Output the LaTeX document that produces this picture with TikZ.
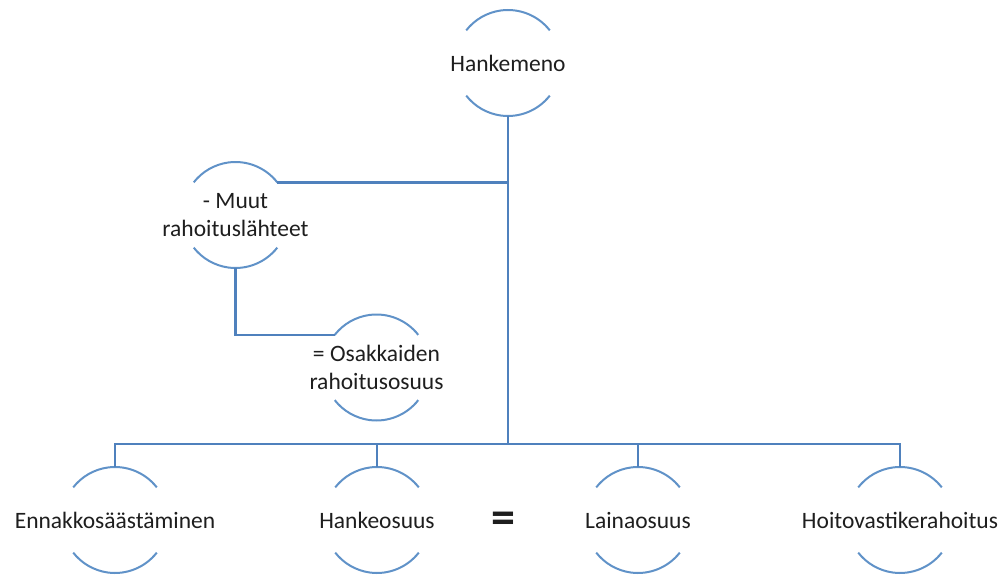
\documentclass[tikz,border=0pt]{standalone}
\usepackage{fontspec}
\setmainfont{Carlito}
\usepackage{tikz}
\usetikzlibrary{positioning}
\definecolor{linkblue}{RGB}{79,129,189}
\definecolor{ringblue}{RGB}{96,146,200}
\definecolor{txtgray}{RGB}{30,30,30}

\begin{document}
\begin{tikzpicture}[x=1pt,y=1pt,
  ring/.style={circle,minimum size=106pt,inner sep=0pt,outer sep=0pt},
  txt/.style={font=\fontsize{23.5}{28}\selectfont,text=txtgray,align=center},
  link/.style={draw=linkblue,line width=2.4pt},
  arcline/.style={draw=ringblue,line width=2pt}]
  \useasboundingbox (0,0) rectangle (1004,-575);

  \node[ring,label={[txt]center:Hankemeno}] (h) at (508,-63){};
  \node[ring,label={[txt]center:- Muut\\rahoituslähteet}] (m) at (235.5,-215){};
  \node[ring,label={[txt]center:= Osakkaiden\\rahoitusosuus}] (o) at (376.5,-367.5){};
  \node[ring,label={[txt]center:Ennakkosäästäminen}] (e) at (115,-520){};
  \node[ring,label={[txt]center:Hankeosuus}] (ho) at (377,-520){};
  \node[ring,label={[txt]center:Lainaosuus}] (l) at (638,-520){};
  \node[ring,label={[txt]center:Hoitovastikerahoitus}] (hv) at (900,-520){};
  \node[font=\fontsize{48}{50}\selectfont\bfseries,text=txtgray] (eq) at (503,-523){=};

  \coordinate (bus) at (508,-444);

  % arcs of the rings
  \foreach \n in {h,m,o,e,ho,l,hv}{
    \draw[arcline] (\n.38) arc[start angle=38,end angle=142,radius=53pt];
    \draw[arcline] (\n.-38) arc[start angle=-38,end angle=-142,radius=53pt];
  }

  \draw[link](h.south)--(bus);
  \draw[link](m.38)--(m.38 -| h.south);
  \draw[link](m.south)|-(o.142);
  \draw[link](e.north)--(e.north |- bus)-|(hv.north);
  \draw[link](ho.north)--(ho.north |- bus);
  \draw[link](l.north)--(l.north |- bus);
\end{tikzpicture}
\end{document}
